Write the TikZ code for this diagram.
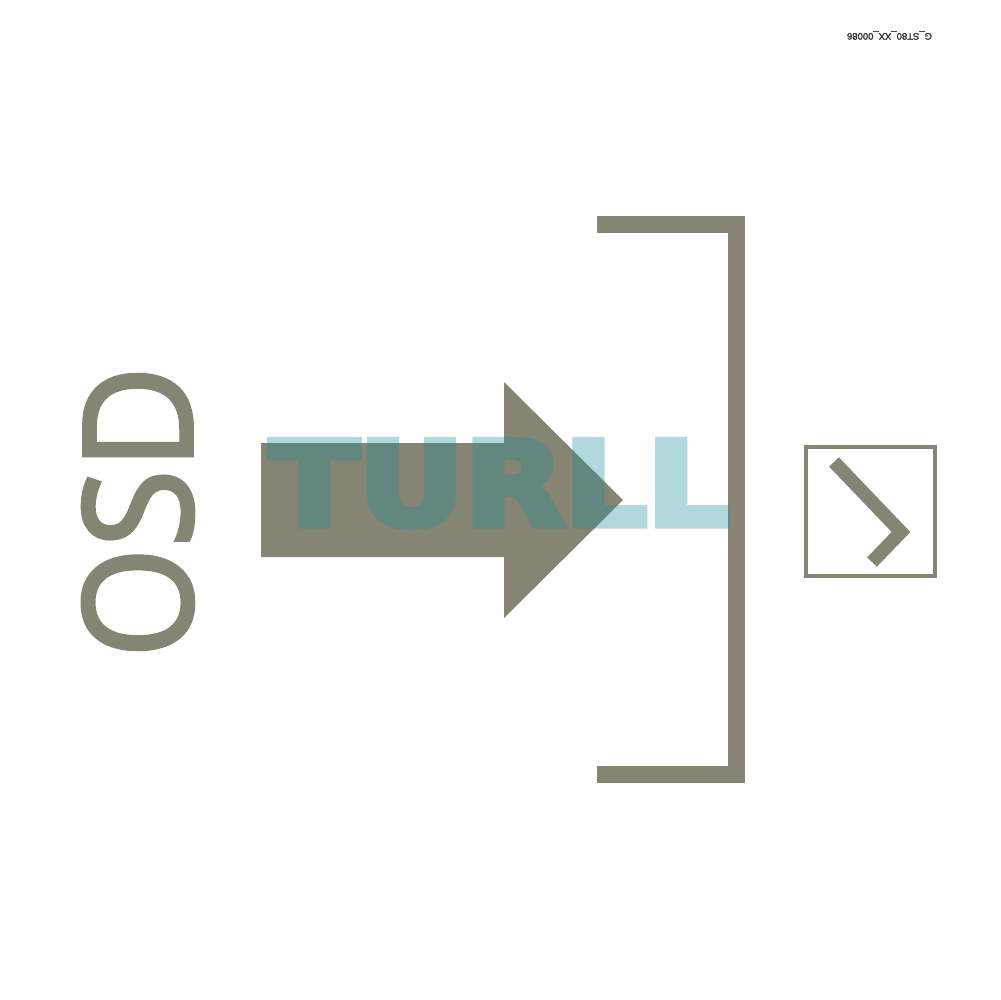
\documentclass[tikz,border=0pt]{standalone}
\usepackage{fontspec}
\usepackage{tikz}
\usetikzlibrary{positioning}
\newfontfamily\osdfont[FakeBold=2.5]{Open Sans}
\newfontfamily\markfont[FakeBold=6]{DejaVu Sans Bold}
\newfontfamily\codefont[FakeBold=2]{Liberation Sans}
\definecolor{signgrey}{RGB}{134,132,114}
\definecolor{markteal}{RGB}{27,142,155}

\begin{document}
\begin{tikzpicture}[x=0.1mm,y=-0.1mm]
	\useasboundingbox[fill=white] (0,0) rectangle (1000,1000);

	% sign label and code
	\begin{scope}[every node/.style={inner sep=0pt,text=signgrey}]
		\node[rotate=90,anchor=base,font=\osdfont\fontsize{43}{48}\selectfont] (osd) at (192,512) {\scalebox{0.94}[1]{OSD}};
		\node[rotate=180,font=\codefont\fontsize{2.7}{3}\selectfont,text=black!80] (code) at (889.5,35.5) {G\_ST80\_XX\_00086};
	\end{scope}

	% entry arrow and frame
	\fill[signgrey] (261,443) -- (504,443) -- (504,382) -- (623,500) -- (504,618) -- (504,557) -- (261,557) -- cycle;
	\draw[signgrey,line width=0.17cm,miter limit=4] (597,224) -- (736.5,224) -- (736.5,774.5) -- (597,774.5);

	% key box
	\node[draw=signgrey,line width=0.04cm,minimum size=1.29cm,inner sep=0pt] (key) at (870.5,511) {};
	\draw[signgrey,line width=0.135cm] (834,462) -- (901,532) -- (872,562);

	% watermark
	\begin{scope}[transparency group,opacity=0.34]
		\node[anchor=base,inner sep=0pt,text=markteal,xscale=1.12,
		      font=\markfont\fontsize{33}{36}\selectfont] (mark) at (500,525) {TURLL};
	\end{scope}
\end{tikzpicture}
\end{document}
